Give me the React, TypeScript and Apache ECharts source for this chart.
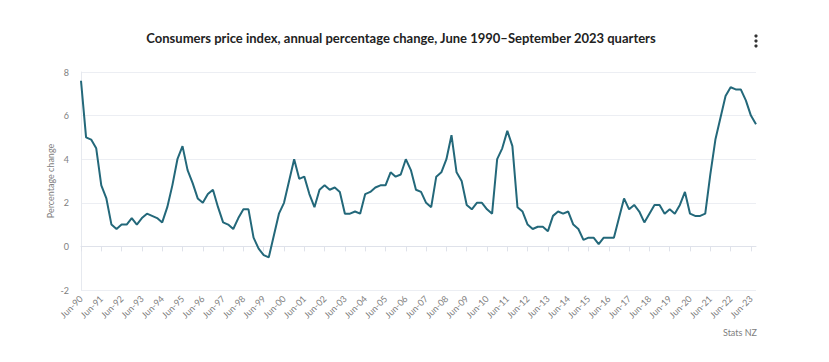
import React, { useEffect, useRef } from "react";
import * as echarts from "echarts";

const TITLE = "Consumers price index, annual percentage change, June 1990–September 2023 quarters";
const Y_NAME = "Percentage change";
const SOURCE = "Stats NZ";

const QUARTERS = ["Mar", "Jun", "Sep", "Dec"];
const FIRST_YEAR = 1990;
const FIRST_QUARTER = 1; // Jun
const Y_MIN = -2;
const Y_MAX = 8;
const Y_STEP = 2;

// Annual % change, Jun-90 … Sep-23 (134 quarters)
const cpi: number[] = [
  7.6, 5.0, 4.9, // 1990 Jun–Dec
  4.5, 2.8, 2.2, 1.0, // 1991
  0.8, 1.0, 1.0, 1.3, // 1992
  1.0, 1.3, 1.5, 1.4, // 1993
  1.3, 1.1, 1.8, 2.8, // 1994
  4.0, 4.6, 3.5, 2.9, // 1995
  2.2, 2.0, 2.4, 2.6, // 1996
  1.8, 1.1, 1.0, 0.8, // 1997
  1.3, 1.7, 1.7, 0.4, // 1998
  -0.1, -0.4, -0.5, 0.5, // 1999
  1.5, 2.0, 3.0, 4.0, // 2000
  3.1, 3.2, 2.4, 1.8, // 2001
  2.6, 2.8, 2.6, 2.7, // 2002
  2.5, 1.5, 1.5, 1.6, // 2003
  1.5, 2.4, 2.5, 2.7, // 2004
  2.8, 2.8, 3.4, 3.2, // 2005
  3.3, 4.0, 3.5, 2.6, // 2006
  2.5, 2.0, 1.8, 3.2, // 2007
  3.4, 4.0, 5.1, 3.4, // 2008
  3.0, 1.9, 1.7, 2.0, // 2009
  2.0, 1.7, 1.5, 4.0, // 2010
  4.5, 5.3, 4.6, 1.8, // 2011
  1.6, 1.0, 0.8, 0.9, // 2012
  0.9, 0.7, 1.4, 1.6, // 2013
  1.5, 1.6, 1.0, 0.8, // 2014
  0.3, 0.4, 0.4, 0.1, // 2015
  0.4, 0.4, 0.4, 1.3, // 2016
  2.2, 1.7, 1.9, 1.6, // 2017
  1.1, 1.5, 1.9, 1.9, // 2018
  1.5, 1.7, 1.5, 1.9, // 2019
  2.5, 1.5, 1.4, 1.4, // 2020
  1.5, 3.3, 4.9, 5.9, // 2021
  6.9, 7.3, 7.2, 7.2, // 2022
  6.7, 6.0, 5.6, // 2023 Mar–Sep
];

const categories: string[] = cpi.map((_, i) => {
  const q = FIRST_QUARTER + i;
  const year = FIRST_YEAR + Math.floor(q / 4);
  return `${QUARTERS[q % 4]}-${String(year % 100).padStart(2, "0")}`;
});

export default function App() {
  const ref = useRef<HTMLDivElement>(null);
  useEffect(() => {
    document.body.style.margin = "0";
    if (!ref.current) return;
    const chart = echarts.init(ref.current, undefined, { renderer: "svg" });
    const font = "Lato, 'Open Sans', sans-serif";
    chart.setOption({
      animation: false,
      backgroundColor: "#ffffff",
      textStyle: { fontFamily: font },
      grid: { left: 81, right: 73, top: 72, bottom: 72, containLabel: false },
      xAxis: {
        type: "category",
        data: categories,
        boundaryGap: false,
        axisLine: { lineStyle: { color: "#dfe2ea", width: 1 } },
        axisTick: {
          show: true,
          interval: (i: number) => i % 4 === 0,
          length: 5,
          lineStyle: { color: "#dfe2ea" },
        },
        axisLabel: {
          interval: (i: number) => i % 4 === 0,
          rotate: 45,
          fontSize: 9,
          color: "#808080",
          margin: 7,
          fontFamily: font,
        },
        splitLine: { show: false },
      },
      yAxis: {
        type: "value",
        min: Y_MIN,
        max: Y_MAX,
        interval: Y_STEP,
        axisLine: { show: true, lineStyle: { color: "#e6e9ef" } },
        axisTick: { show: false },
        axisLabel: { fontSize: 9, color: "#808080", margin: 12, fontFamily: font },
        splitLine: { lineStyle: { color: "#eceef3", width: 1 } },
      },
      series: [
        {
          type: "line",
          data: cpi,
          symbol: "none",
          lineStyle: { color: "#23687a", width: 2 },
          itemStyle: { color: "#23687a" },
        },
      ],
      graphic: [
        {
          type: "text",
          x: 401,
          y: 38,
          style: {
            text: TITLE,
            textAlign: "center",
            textVerticalAlign: "middle",
            fontSize: 13,
            fontWeight: "bold",
            fontFamily: font,
            fill: "#222222",
          },
        },
        {
          type: "text",
          x: 50,
          y: 181,
          rotation: Math.PI / 2,
          style: {
            text: Y_NAME,
            textAlign: "center",
            textVerticalAlign: "middle",
            fontSize: 9,
            fontFamily: font,
            fill: "#808080",
          },
        },
        { type: "circle", shape: { cx: 756, cy: 36, r: 1.6 }, style: { fill: "#333" } },
        { type: "circle", shape: { cx: 756, cy: 41, r: 1.6 }, style: { fill: "#333" } },
        { type: "circle", shape: { cx: 756, cy: 46, r: 1.6 }, style: { fill: "#333" } },
        {
          type: "text",
          x: 757,
          y: 332,
          style: {
            text: SOURCE,
            textAlign: "right",
            textVerticalAlign: "middle",
            fontSize: 9,
            fontFamily: font,
            fill: "#808080",
          },
        },
      ],
    });
    return () => chart.dispose();
  }, []);
  return <div ref={ref} style={{ width: 829, height: 362 }} />;
}
